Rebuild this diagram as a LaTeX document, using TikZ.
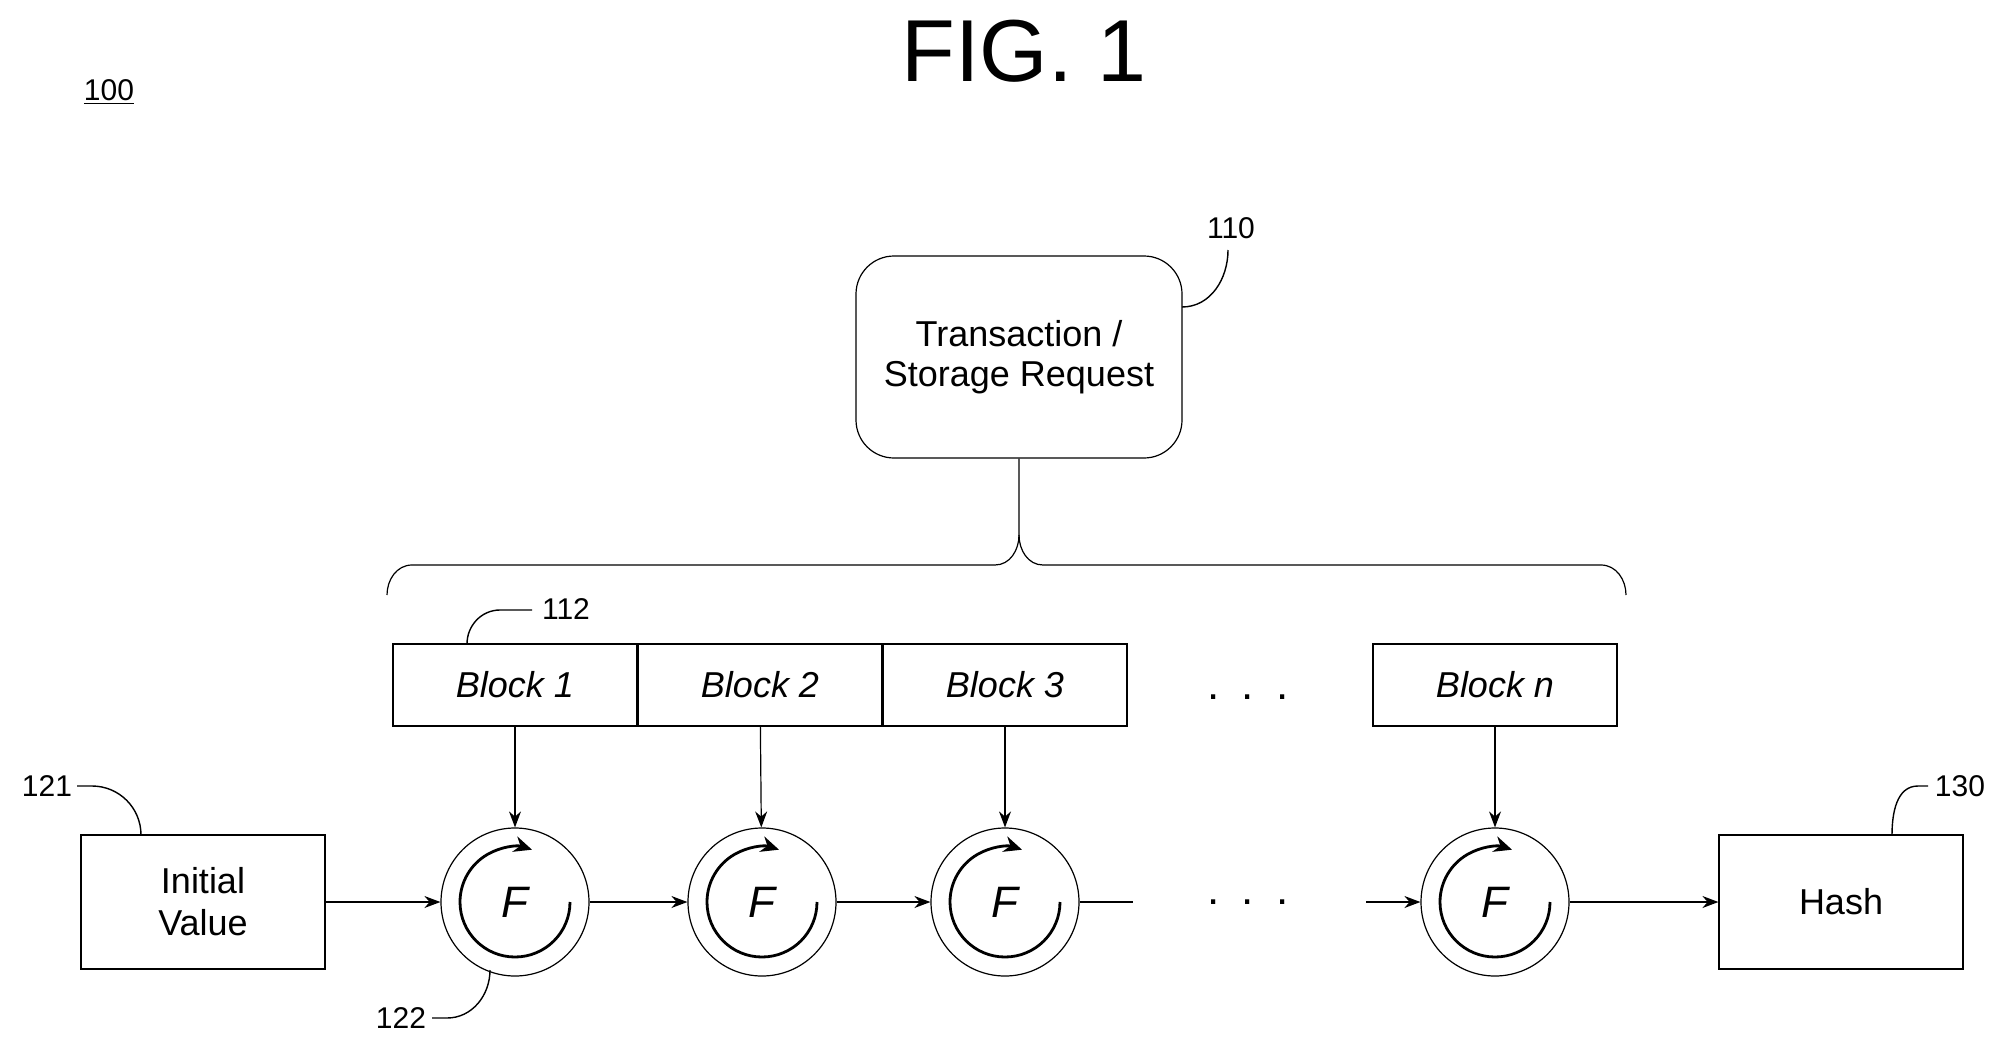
\documentclass[tikz,border=0pt]{standalone}
\usepackage{fontspec}
\setmainfont{Liberation Sans}
\usetikzlibrary{arrows.meta}
\begin{document}
\begin{tikzpicture}[x=0.5pt,y=-0.5pt,
  box/.style={draw,line width=0.6pt,minimum width=122pt,minimum height=41pt,inner sep=0pt,font=\fontsize{18}{21}\selectfont\itshape},
  sq/.style={draw,line width=0.6pt,minimum width=122pt,minimum height=67pt,align=center,font=\fontsize{18}{21}\selectfont},
  fc/.style={draw,circle,line width=0.6pt,minimum size=74pt,inner sep=0pt,font=\fontsize{22}{24}\selectfont\itshape},
  arr/.style={-{Stealth[length=8pt,width=6pt]},line width=0.6pt},
  lab/.style={font=\fontsize{15}{18}\selectfont},
  ld/.style={line width=0.7pt}]
\useasboundingbox (0,0) rectangle (2007,1049);
\node[font=\fontsize{44}{48}\selectfont] (fig) at (1024,51) {FIG. 1};
\node[lab] (n100) at (109,92) {\underline{100}};
\node[draw,rounded corners=19pt,line width=0.6pt,minimum width=163pt,minimum height=101pt,align=center,font=\fontsize{18}{21}\selectfont] (tr) at (1019,357) {Transaction /\\[-1pt]Storage Request};
% brace
\coordinate (bm) at (1019,550);
\draw[line width=0.6pt] (tr.south) -- (1019,535) to[out=-90,in=0] (995,565) -- (412,565) to[out=180,in=90] (387,595);
\draw[line width=0.6pt] (1019,535) to[out=-90,in=180] (1043,565) -- (1601,565) to[out=0,in=90] (1626,595);
% blocks
\node[box] (b1) at (515,685) {Block 1};
\node[box] (b2) at (760,685) {Block 2};
\node[box] (b3) at (1005,685) {Block 3};
\node[box] (bn) at (1495,685) {Block n};
\node[font=\fontsize{22}{24}\selectfont] (d1) at (1248,697) {.\,\,\,.\,\,\,.};
\node[font=\fontsize{22}{24}\selectfont] (d2) at (1248,902) {.\,\,\,.\,\,\,.};
% circles
\foreach \n/\x in {1/515,2/762,3/1005,4/1495}{
  \node[fc] (f\n) at (\x,902) {F};
  \draw[line width=1.4pt,-{Stealth[length=9pt,width=8pt]}] (\x,902) ++(55,0) arc[start angle=0,end angle=288,radius=55];
}
\draw[arr] (b1) -- (f1);
\draw[arr] (b2) -- (f2);
\draw[arr] (b3) -- (f3);
\draw[arr] (bn) -- (f4);
\node[sq] (iv) at (203,902) {Initial\\Value};
\node[sq] (hash) at (1841,902) {Hash};
\draw[arr] (iv) -- (f1);
\draw[arr] (f1) -- (f2);
\draw[arr] (f2) -- (f3);
\coordinate (e3) at (1133,902);
\coordinate (s4) at (1366,902);
\draw[line width=0.6pt] (f3) -- (e3);
\draw[arr] (s4) -- (f4);
\draw[arr] (f4) -- (hash);
% labels
\node[lab] (l110) at (1231,228) {110};
\draw[ld] (1182,307) to[out=0,in=-90] (1228,250);
\node[lab] (l112) at (566,609) {112};
\draw[ld] (467,644) to[out=90,in=180] (500,610) -- (532,610);
\node[lab] (l121) at (47,786) {121};
\draw[ld] (77,786) -- (92,786) to[out=0,in=90] (141,835);
\node[lab] (l122) at (401,1018) {122};
\draw[ld] (432,1018) -- (447,1018) to[out=0,in=-90] (490,970);
\node[lab] (l130) at (1960,786) {130};
\draw[ld] (1928,786) -- (1918,786) to[out=180,in=90] (1892,835);
\end{tikzpicture}
\end{document}
